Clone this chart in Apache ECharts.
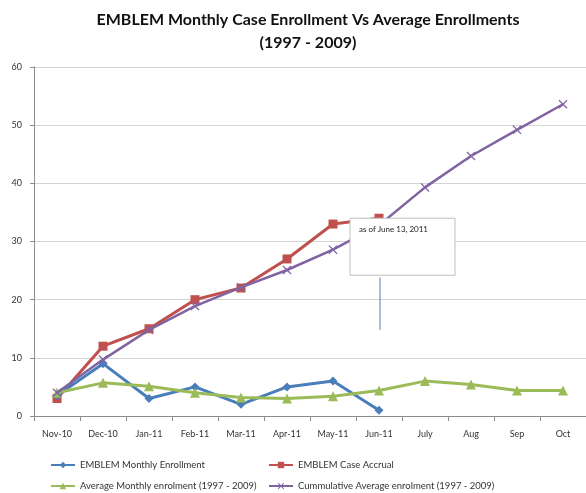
<!DOCTYPE html>
<html><head><meta charset="utf-8">
<script src="https://cdn.jsdelivr.net/npm/echarts@6/dist/echarts.min.js"></script>
<style>html,body{margin:0;padding:0;background:#fff}#c{width:586px;height:493px}</style>
</head><body><div id="c"></div>
<script>
const categories = ['Nov-10','Dec-10','Jan-11','Feb-11','Mar-11','Apr-11','May-11','Jun-11','July','Aug','Sep','Oct'];
const monthlyEnrollment = [3.5, 9, 3, 5, 2, 5, 6, 1];
const caseAccrual = [3, 12, 15, 20, 22, 27, 33, 34];
const avgMonthly = [4, 5.7, 5.1, 4, 3.2, 3, 3.4, 4.4, 6, 5.4, 4.4, 4.4];
const cumAvg = [4, 9.7, 14.8, 18.9, 22.1, 25.1, 28.6, 32.8, 39.3, 44.7, 49.2, 53.6];
const yTicks = [0, 10, 20, 30, 40, 50, 60];
const noteText = 'as of June 13, 2011';
const noteCategory = 'Jun-11';
const noteLine = [14.8, 23.8];

const FONT = 'Lato, "Open Sans", sans-serif';
const xSym = 'path://M0,1L1,0L5,4L9,0L10,1L6,5L10,9L9,10L5,6L1,10L0,9L4,5Z';
const chart = echarts.init(document.getElementById('c'));
const legendText = {fontSize: 9.5, color: '#333', fontFamily: FONT};
function leg(name, left, top) {
  return {data: [name], left: left, top: top, itemWidth: 24, itemHeight: 8, itemGap: 4, textStyle: legendText, padding: 0};
}
chart.setOption({
  animation: false,
  backgroundColor: '#fff',
  title: {
    text: 'EMBLEM Monthly Case Enrollment Vs Average Enrollments\n(1997 - 2009)',
    left: 303, textAlign: 'center', top: 3,
    textStyle: {fontSize: 16, fontWeight: 'bold', color: '#111', fontFamily: FONT, lineHeight: 23}
  },
  legend: [
    leg('EMBLEM Monthly Enrollment', 50, 460),
    leg('EMBLEM Case Accrual', 268, 460),
    leg('Average Monthly enrolment (1997 - 2009)', 50, 481),
    leg('Cummulative Average enrolment (1997 - 2009)', 268, 481)
  ],
  grid: {left: 34, right: 0, top: 67, bottom: 77, containLabel: false},
  xAxis: {
    type: 'category', data: categories, boundaryGap: true,
    axisLine: {lineStyle: {color: '#8c8c8c', width: 1}},
    axisTick: {show: true, interval: 0, length: 5, lineStyle: {color: '#8c8c8c'}},
    axisLabel: {interval: 0, fontSize: 9, color: '#333', margin: 14, fontFamily: FONT}
  },
  yAxis: {
    type: 'value', min: yTicks[0], max: yTicks[yTicks.length - 1], interval: 10,
    axisLine: {show: true, lineStyle: {color: '#8c8c8c', width: 1}},
    axisTick: {show: true, length: 4, lineStyle: {color: '#8c8c8c'}},
    axisLabel: {fontSize: 9, color: '#333', margin: 12, fontFamily: FONT},
    splitLine: {lineStyle: {color: '#d4d4d4', width: 1.2}}
  },
  series: [
    {name: 'EMBLEM Monthly Enrollment', type: 'line', data: monthlyEnrollment, color: '#4a7ebb',
     symbol: 'diamond', symbolSize: 9, lineStyle: {width: 3}, z: 3},
    {name: 'EMBLEM Case Accrual', type: 'line', data: caseAccrual, color: '#c0504d',
     symbol: 'rect', symbolSize: 9, lineStyle: {width: 3}, z: 2},
    {name: 'Average Monthly enrolment (1997 - 2009)', type: 'line', data: avgMonthly, color: '#9bbb59',
     symbol: 'triangle', symbolSize: 10, lineStyle: {width: 3}, z: 4},
    {name: 'Cummulative Average enrolment (1997 - 2009)', type: 'line', data: cumAvg, color: '#8064a2',
     symbol: xSym, symbolSize: 9, lineStyle: {width: 2.5}, z: 5}
  ]
});

// Callout anchored to the data scale
const pTop = chart.convertToPixel({gridIndex: 0}, [noteCategory, noteLine[1]]);
const pBot = chart.convertToPixel({gridIndex: 0}, [noteCategory, noteLine[0]]);
const boxTop = chart.convertToPixel({gridIndex: 0}, [noteCategory, 34])[1];
chart.setOption({
  graphic: [
    {type: 'line', z: 100, shape: {x1: pTop[0] + 1, y1: pTop[1], x2: pBot[0] + 1, y2: pBot[1]},
     style: {stroke: '#4a7ebb', lineWidth: 1}},
    {type: 'rect', z: 100, shape: {x: pTop[0] - 29, y: boxTop, width: 105, height: 57},
     style: {fill: '#fff', stroke: '#bfbfbf', lineWidth: 1}},
    {type: 'text', z: 101, x: pTop[0] - 20, y: boxTop + 7,
     style: {text: noteText, fontSize: 8, fill: '#222', fontFamily: FONT}}
  ]
});
</script></body></html>
